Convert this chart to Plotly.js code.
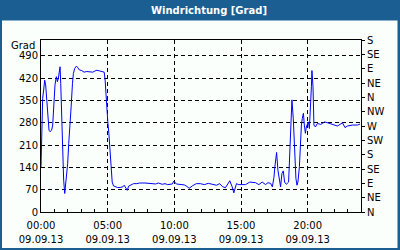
<!DOCTYPE html>
<html><head><meta charset="utf-8">
<script src="https://cdn.plot.ly/plotly-3.0.1.min.js"></script>
<style>html,body{margin:0;padding:0;background:#fff;}#chart{width:400px;height:250px;}</style>
</head><body><div id="chart"></div>
<script>
// time of day in hours, 09.09.13
const hours = [0,0.05,0.125,0.2,0.276,0.35,0.426,0.526,0.6,0.677,0.8,0.877,0.977,1.05,1.15,1.23,1.30,1.38,1.43,1.48,1.55,1.63,1.70,1.78,1.85,1.93,2.0,2.08,2.18,2.26,2.36,2.43,2.53,2.66,2.76,2.88,3.06,3.23,3.43,3.68,3.88,4.06,4.19,4.39,4.56,4.74,4.81,4.89,4.94,5.01,5.09,5.16,5.24,5.34,5.44,5.56,5.74,5.94,6.14,6.24,6.34,6.47,6.57,6.74,6.94,7.19,7.39,
 7.8,8.2,8.6,8.8,9.1,9.3,9.5,9.85,9.96,10.15,10.45,10.75,11.0,11.1,11.35,11.65,11.95,12.25,12.55,12.86,13.16,13.4,13.6,13.83,
 14.16,14.34,14.46,14.66,14.83,15.34,15.66,16.09,16.34,16.59,16.84,17.02,17.22,17.35,17.47,17.54,17.67,17.77,17.87,17.97,18.07,18.17,18.27,18.4,18.57,18.65,18.74,18.82,18.92,19.02,19.12,19.2,19.27,19.38,19.45,19.53,19.6,19.68,19.75,19.83,19.9,19.98,20.05,20.13,20.23,20.28,20.32,20.4,20.47,20.58,20.73,20.98,21.28,21.6,21.98,22.23,22.61,22.8,22.98,23.36,23.74,23.93];
// wind direction in degrees
const direction = [141,278,357,383,414,399,346,310,257,252,257,273,352,399,425,409,420,441,456,404,299,184,100,58,89,110,152,215,267,330,404,435,451,458,453,446,444,439,441,441,439,443,445,443,441,439,414,362,299,283,247,194,142,94,82,79,77,77,79,84,77,68,81,84,89,89,91,
 91,90,88,91,87,89,86,88,97,88,86,85,79,74,82,89,89,86,90,88,84,89,80,76,
 98,79,60,89,86,86,94,92,86,94,86,92,90,79,108,142,187,131,100,79,121,129,94,87,94,163,283,352,294,205,105,84,94,142,226,273,294,310,273,247,267,273,283,262,330,393,444,393,273,267,278,275,283,278,273,270,280,265,270,273,273,276];

const xTickVals = [0,5,10,15,20];
const timeLabels = ["00:00","05:00","10:00","15:00","20:00"];
const dateLabels = ["09.09.13","09.09.13","09.09.13","09.09.13","09.09.13"];
const degTickVals = [0,70,140,210,280,350,420,490];
const compassVals = [0,45,90,135,180,225,270,315,360,405,450,495,540];
const compassText = ["N","NE","E","SE","S","SW","W","NW","N","NE","E","SE","S"];

const blue = '#1b5e92';
const bg = '#fbfffb';
const font = {family:'DejaVu Sans, Verdana, sans-serif', size:10, color:'#000'};

const traces = [
  {x: hours, y: direction, type:'scatter', mode:'lines', line:{color:'#0000ff', width:1}, hoverinfo:'skip', showlegend:false},
  {x: [0], y: [0], xaxis:'x2', yaxis:'y2', type:'scatter', mode:'markers', marker:{opacity:0}, hoverinfo:'skip', showlegend:false}
];

const layout = {
  width:400, height:250,
  margin:{l:41, r:39, t:40, b:38},
  paper_bgcolor: blue,
  plot_bgcolor: bg,
  font: font,
  title:{text:'<b>Windrichtung [Grad]</b>', font:{family:'DejaVu Sans, Verdana, sans-serif', size:10, color:'#fff'},
         xref:'container', yref:'container', x:0.5225, xanchor:'center', y:0.958, yanchor:'middle'},
  xaxis:{range:[0,24], tickvals:xTickVals, ticktext:timeLabels, ticks:'inside', ticklen:3, tickcolor:'#000',
         showline:true, linecolor:'#000', linewidth:1, mirror:true, ticklabelstandoff:4,
         showgrid:true, gridcolor:'#000', gridwidth:1, griddash:'4px,3px', zeroline:false,
         minor:{dtick:1, tick0:0, ticks:'inside', ticklen:3, tickcolor:'#000', showgrid:false},
         tickfont:font, fixedrange:true},
  xaxis2:{range:[0,24], overlaying:'x', side:'bottom', anchor:'y', tickvals:xTickVals, ticktext:dateLabels,
          ticks:'', showline:false, showgrid:false, zeroline:false, ticklabelstandoff:20, tickfont:font, fixedrange:true},
  yaxis:{range:[0,540], tickvals:degTickVals, ticks:'', showline:true, linecolor:'#000', linewidth:1, mirror:true,
         showgrid:true, gridcolor:'#000', gridwidth:1, griddash:'4px,3px', zeroline:false, tickfont:font, fixedrange:true},
  yaxis2:{range:[0,540], overlaying:'y', side:'right', tickvals:compassVals, ticktext:compassText,
          ticks:'outside', ticklen:3, tickcolor:'#000', showline:true, linecolor:'#000', showgrid:false, zeroline:false,
          tickfont:font, fixedrange:true},
  shapes:[{type:'rect', xref:'paper', yref:'paper', x0:(2-41)/320, x1:(397.5-41)/320, y0:(212-248)/172, y1:(212-20.5)/172,
           fillcolor:bg, line:{width:0}, layer:'below'}],
  annotations:[{text:'Grad', xref:'paper', yref:'paper', x:(37-41)/320, y:(212-46)/172, xanchor:'right', yanchor:'middle',
                showarrow:false, font:font}]
};

Plotly.newPlot('chart', traces, layout, {staticPlot:true, displayModeBar:false});
</script>
</body></html>
